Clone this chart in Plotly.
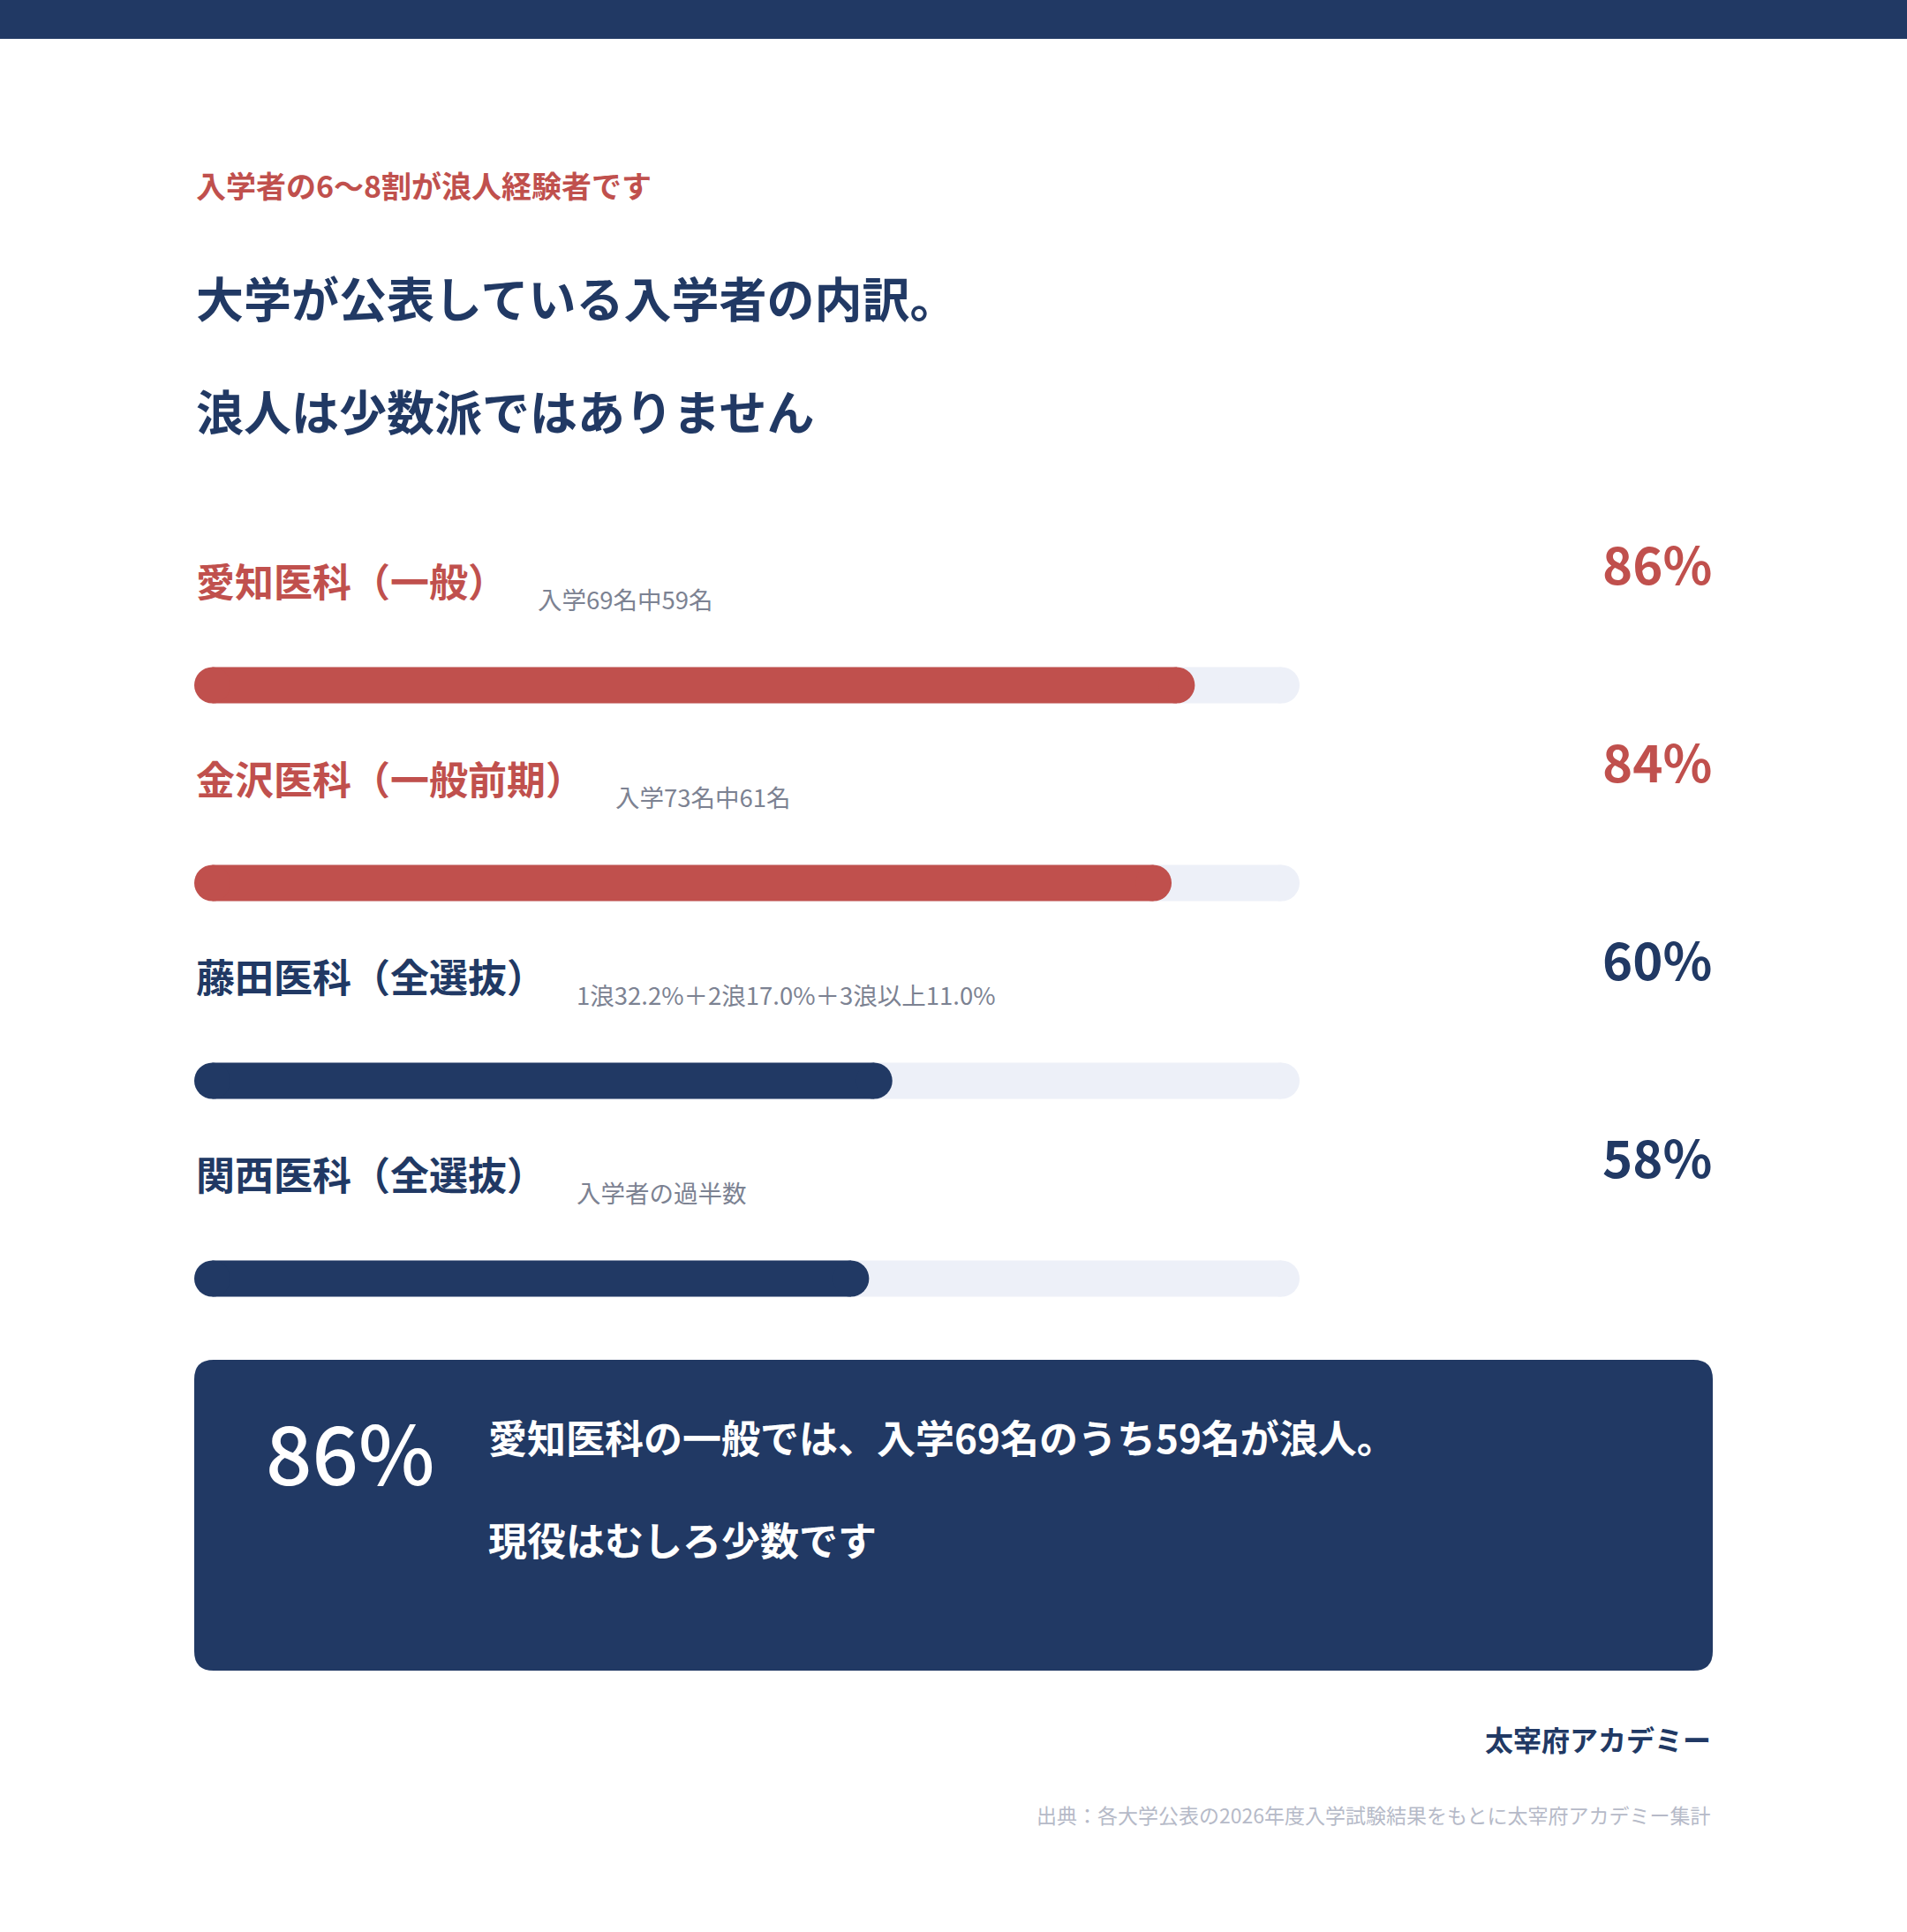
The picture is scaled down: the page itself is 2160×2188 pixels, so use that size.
import plotly.graph_objects as go

# ---- data ----
schools = ["愛知医科（一般）", "金沢医科（一般前期）", "藤田医科（全選抜）", "関西医科（全選抜）"]
ronin_pct = [86, 84, 60, 58]
notes = ["入学69名中59名", "入学73名中61名", "1浪32.2%＋2浪17.0%＋3浪以上11.0%", "入学者の過半数"]
highlight = [True, True, False, False]
scale_max = 95

eyebrow = "入学者の6〜8割が浪人経験者です"
title_lines = ["大学が公表している入学者の内訳。", "浪人は少数派ではありません"]
callout_value = "86%"
callout_lines = ["愛知医科の一般では、入学69名のうち59名が浪人。", "現役はむしろ少数です"]
brand = "太宰府アカデミー"
source = "出典：各大学公表の2026年度入学試験結果をもとに太宰府アカデミー集計"

# ---- style ----
W, H = 2160, 2188
NAVY = "#213964"
RED = "#c0504d"
TRACK = "#edf0f8"
GRAY = "#7c8292"
LIGHT = "#b6bac8"
FONT = "Noto Sans CJK JP"


def px(x):
    return x / W


def py(y):
    return 1 - y / H


colors = [RED if h else NAVY for h in highlight]

# bar geometry (pixels)
x_left, x_right = 220, 1472
row_gap = 224
first_center = 776
bar_thick = 41
n = len(schools)
y_top_px = first_center - row_gap / 2
y_bot_px = first_center + row_gap * (n - 0.5)

# cap radius expressed in data units of the x axis
cap_r = (bar_thick / 2) * scale_max / (x_right - x_left)
rows = list(range(n))
bar_w = bar_thick / row_gap

fig = go.Figure()

# track (full scale) body + right cap
fig.add_trace(go.Bar(
    y=rows, x=[scale_max - 2 * cap_r] * n, base=[cap_r] * n,
    orientation="h", width=bar_w, marker=dict(color=TRACK, line=dict(width=0)),
    hoverinfo="skip", showlegend=False,
))
# filled value body
fig.add_trace(go.Bar(
    y=rows, x=[v - 2 * cap_r for v in ronin_pct], base=[cap_r] * n,
    orientation="h", width=bar_w, marker=dict(color=colors, line=dict(width=0)),
    hoverinfo="skip", showlegend=False,
))
# rounded caps: track right end, value left and right ends
fig.add_trace(go.Scatter(
    y=rows, x=[scale_max - cap_r] * n, mode="markers", cliponaxis=False,
    marker=dict(symbol="circle", size=bar_thick, color=TRACK, line=dict(width=0)),
    hoverinfo="skip", showlegend=False,
))
fig.add_trace(go.Scatter(
    y=rows + rows, x=[cap_r] * n + [v - cap_r for v in ronin_pct],
    mode="markers", cliponaxis=False,
    marker=dict(symbol="circle", size=bar_thick, color=colors + colors, line=dict(width=0)),
    hoverinfo="skip", showlegend=False,
))

annotations = []


def txt(text, x, y, size, color, weight=400, xanchor="left", yanchor="middle", **kw):
    annotations.append(dict(
        text=text, x=x, y=y, xref="paper", yref="paper", showarrow=False,
        xanchor=xanchor, yanchor=yanchor,
        font=dict(family=FONT, size=size, color=color, weight=weight), **kw))


# header
txt(eyebrow, px(220), py(209), 34, RED, 700)
txt(title_lines[0], px(220), py(336), 54, NAVY, 700)
txt(title_lines[1], px(220), py(465), 54, NAVY, 700)

# rows
label_size = 44
for i, (s, p, note, c) in enumerate(zip(schools, ronin_pct, notes, colors)):
    label_y = py(first_center - 119 + i * row_gap)
    txt(s, px(x_left), label_y, label_size, c, 700)
    label_w = len(s) * label_size
    txt(note, px(x_left + label_w + 35), py(first_center - 98 + i * row_gap), 27.5, GRAY, 400)
    txt(f"{p}%", px(1941), py(first_center - 139 + i * row_gap), 58, c, 700, xanchor="right")

# callout box
bx0, by0, bx1, by1, r = 220, 1540, 1940, 1892, 22
path = (f"M {px(bx0 + r)},{py(by0)} L {px(bx1 - r)},{py(by0)} "
        f"Q {px(bx1)},{py(by0)} {px(bx1)},{py(by0 + r)} "
        f"L {px(bx1)},{py(by1 - r)} Q {px(bx1)},{py(by1)} {px(bx1 - r)},{py(by1)} "
        f"L {px(bx0 + r)},{py(by1)} Q {px(bx0)},{py(by1)} {px(bx0)},{py(by1 - r)} "
        f"L {px(bx0)},{py(by0 + r)} Q {px(bx0)},{py(by0)} {px(bx0 + r)},{py(by0)} Z")

shapes = [
    dict(type="rect", xref="paper", yref="paper", x0=0, x1=1, y0=py(44), y1=1,
         fillcolor=NAVY, line=dict(width=0), layer="below"),
    dict(type="path", xref="paper", yref="paper", path=path,
         fillcolor=NAVY, line=dict(width=0), layer="below"),
]

txt(callout_value, px(299), py(1641), 92, "white", 500)
txt(callout_lines[0], px(551), py(1627), 44, "white", 700)
txt(callout_lines[1], px(551), py(1743), 44, "white", 700)

# footer
txt(brand, px(1940), py(1969), 32, NAVY, 700, xanchor="right")
txt(source, px(1940), py(2055), 23, LIGHT, 400, xanchor="right")

fig.update_layout(
    width=W, height=H,
    margin=dict(l=0, r=0, t=0, b=0),
    paper_bgcolor="white", plot_bgcolor="white",
    barmode="overlay",
    xaxis=dict(domain=[px(x_left), px(x_right)], range=[0, scale_max],
               visible=False, fixedrange=True),
    yaxis=dict(domain=[py(y_bot_px), py(y_top_px)], range=[n - 0.5, -0.5],
               visible=False, fixedrange=True),
    shapes=shapes,
    annotations=annotations,
    font=dict(family=FONT),
)

fig.write_html(
    "out.html",
    config={"displayModeBar": False},
    post_script="document.body.style.margin='0';document.body.style.padding='0';",
)
